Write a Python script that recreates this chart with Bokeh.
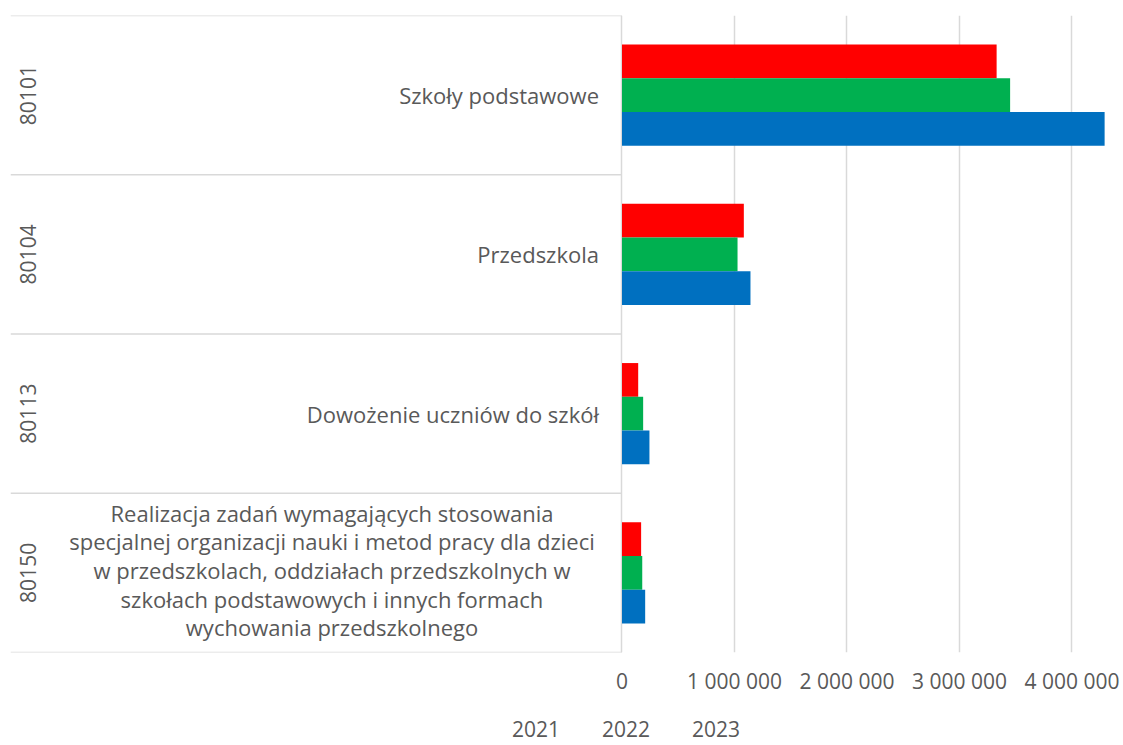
import math
from bokeh.plotting import figure
from bokeh.layouts import column
from bokeh.models import Range1d, FixedTicker, Legend, LegendItem, ColumnDataSource
from bokeh.core.properties import value
from bokeh.embed import file_html
from bokeh.resources import INLINE

# ---------------- data ----------------
codes = ["80101", "80104", "80113", "80150"]
labels = [
    "Szkoły podstawowe",
    "Przedszkola",
    "Dowożenie uczniów do szkół",
    "Realizacja zadań wymagających stosowania\n"
    "specjalnej organizacji nauki i metod pracy dla dzieci\n"
    "w przedszkolach, oddziałach przedszkolnych w\n"
    "szkołach podstawowych i innych formach\n"
    "wychowania przedszkolnego",
]
years = ["2021", "2022", "2023"]
v2021 = [3330000, 1083000, 144000, 170000]
v2022 = [3450000, 1027000, 188000, 180000]
v2023 = [4290000, 1142000, 244000, 206000]
colors = ["#FF0000", "#00B050", "#0070C0"]
ticks = [0, 1000000, 2000000, 3000000, 4000000]
tick_labels = ["0", "1 000 000", "2 000 000", "3 000 000", "4 000 000"]

# ---------------- layout ----------------
FONT = "Open Sans"
TXT = "#595959"
GRID = "#D9D9D9"
n = len(codes)
x_start, x_end = -5435600, 4395600

p = figure(
    frame_width=1106, frame_height=637,
    x_range=Range1d(x_start, x_end), y_range=Range1d(0, n),
    output_backend="svg", toolbar_location=None,
    y_axis_location=None,
    min_border_left=10, min_border_right=7, min_border_top=15, min_border_bottom=60,
)
p.outline_line_color = None
p.background_fill_color = "white"
p.border_fill_color = "white"
p.ygrid.grid_line_color = None
p.xgrid.grid_line_color = GRID
p.xgrid.grid_line_width = 1.5

ax = p.xaxis[0]
ax.ticker = FixedTicker(ticks=ticks)
ax.major_label_overrides = {t: l for t, l in zip(ticks, tick_labels)}
ax.axis_line_color = None
ax.major_tick_line_color = None
ax.minor_tick_line_color = None
ax.major_tick_out = 0
ax.major_tick_in = 0
ax.minor_tick_out = 0
ax.minor_tick_in = 0
ax.major_label_text_font = FONT
ax.major_label_text_font_size = "21px"
ax.major_label_text_color = TXT
ax.major_label_standoff = 14

# band centres (top to bottom)
centers = [n - i - 0.5 for i in range(n)]
bar_h = 0.2117
offsets = [bar_h, 0.0, -bar_h]
series = [v2021, v2022, v2023]

for yr, vals, col, off in zip(years, series, colors, offsets):
    src = ColumnDataSource(dict(y=[c + off for c in centers], right=vals))
    p.hbar(y="y", left=0, right="right", height=bar_h, source=src,
           fill_color=col, line_color=None)

# category separators
bounds = list(range(n + 1))
p.segment(x0=[x_start] * len(bounds), y0=bounds, x1=[0] * len(bounds), y1=bounds,
          line_color=GRID, line_width=1.5)

# inner labels
single = [i for i in range(n) if "\n" not in labels[i]]
multi = [i for i in range(n) if "\n" in labels[i]]
p.text(x=[0] * len(single), y=[centers[i] for i in single], text=[labels[i] for i in single],
       x_offset=-23, text_align="right", text_baseline="middle",
       text_font=value(FONT), text_font_size="22px", text_color=TXT)
p.text(x=[0] * len(multi), y=[centers[i] for i in multi], text=[labels[i] for i in multi],
       x_offset=-290, y_offset=-3, text_align="center", text_baseline="middle",
       text_line_height=0.955,
       text_font=value(FONT), text_font_size="22px", text_color=TXT)

# outer codes (rotated)
p.text(x=[0] * n, y=centers, text=codes, x_offset=-594, angle=math.pi / 2,
       text_align="center", text_baseline="middle",
       text_font=value(FONT), text_font_size="21px", text_color=TXT)

# ---------------- legend strip (separate small figure) ----------------
lg = figure(
    width=1123, height=33,
    x_range=Range1d(0, 1), y_range=Range1d(0, 1),
    output_backend="svg", toolbar_location=None,
    x_axis_location=None, y_axis_location=None,
    min_border_left=0, min_border_right=0, min_border_top=0, min_border_bottom=0,
)
lg.outline_line_color = None
lg.xgrid.grid_line_color = None
lg.ygrid.grid_line_color = None
lg.background_fill_color = "white"
lg.border_fill_color = "white"

items = []
for yr, col in zip(years, colors):
    r = lg.hbar(y=[], left=[], right=[], height=0.1, fill_color=col, line_color=None)
    items.append(LegendItem(label=yr, renderers=[r]))

legend = Legend(items=items, orientation="horizontal", location=(482, 2),
                label_text_font=FONT, label_text_font_size="21px", label_text_color=TXT,
                glyph_width=15, glyph_height=15, label_standoff=5, spacing=22,
                padding=0, margin=0, border_line_color=None, background_fill_alpha=0)
lg.add_layout(legend, "center")

layout = column(p, lg, spacing=0)
open("out.html", "w").write(file_html(layout, INLINE))
